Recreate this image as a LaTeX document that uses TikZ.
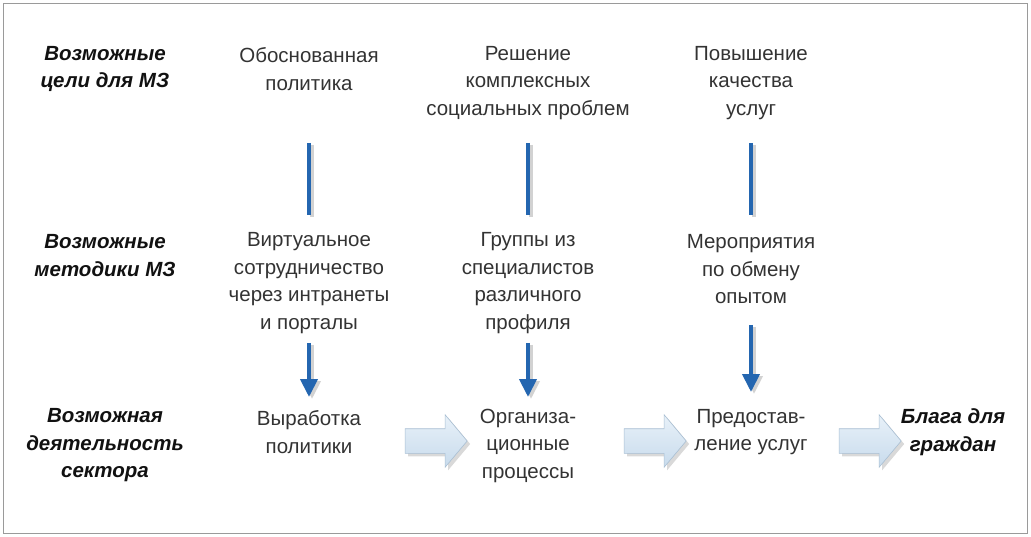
\documentclass[tikz,border=0pt]{standalone}
\usepackage{fontspec}
\setmainfont{Liberation Sans}
\usetikzlibrary{arrows.meta,shapes.arrows,shadows}
\definecolor{txt}{HTML}{333333}
\definecolor{lbl}{HTML}{111111}
\definecolor{vblue}{HTML}{2466B0}
\definecolor{frame}{HTML}{9A9A9A}
\begin{document}
\begin{tikzpicture}[x=1pt,y=-1pt,
  every node/.style={inner sep=0pt, outer sep=0pt},
  body/.style={font=\fontsize{20.5}{27.5}\selectfont, text=txt, align=center},
  label/.style={font=\fontsize{20.5}{27.5}\selectfont\bfseries\itshape, text=lbl, align=center},
  vline/.style={draw=vblue, line width=4pt,
     preaction={draw=gray!35, line width=4pt, transform canvas={xshift=3pt,yshift=-2pt}}},
  varrow/.style={vline, -{Triangle[width=17pt,length=18pt]}},
  barrow/.style={single arrow, single arrow head extend=14pt, single arrow tip angle=100,
     minimum height=62pt, inner ysep=12pt, inner xsep=0pt,
     top color=blockT, bottom color=blockB, draw=blockE, line width=0.6pt,
     drop shadow={shadow xshift=3pt, shadow yshift=-3pt, opacity=0.3, fill=gray}}
]
\definecolor{blockT}{HTML}{E8F1F9}
\definecolor{blockB}{HTML}{C8DBEC}
\definecolor{blockE}{HTML}{A9BFD3}
\useasboundingbox (0,0) rectangle (1031,537);
\draw[frame, line width=1pt] (3.5,3.5) rectangle (1027.5,533.5);

% row labels
\node[label] (l1) at (105,69) {Возможные\\цели для МЗ};
\node[label] (l2) at (105,255.5) {Возможные\\методики МЗ};
\node[label] (l3) at (105,445.5) {Возможная\\деятельность\\сектора};

% goals
\node[body] (g1) at (309,69) {Обоснованная\\политика};
\node[body] (g2) at (528,83) {Решение\\комплексных\\социальных проблем};
\node[body] (g3) at (751,83) {Повышение\\качества\\услуг};

% methods
\node[body] (m1) at (309,283) {Виртуальное\\сотрудничество\\через интранеты\\и порталы};
\node[body] (m2) at (528,283) {Группы из\\специалистов\\различного\\профиля};
\node[body] (m3) at (751,269.5) {Мероприятия\\по обмену\\опытом};

% activities
\node[body] (d1) at (309,432) {Выработка\\политики};
\node[body] (d2) at (528,445.5) {Организа-\\ционные\\процессы};
\node[body] (d3) at (751,432) {Предостав-\\ление услуг};
\node[label] (d4) at (953,432) {Блага для\\граждан};

% vertical lines goal -> method
\coordinate (s1) at (309,143); \coordinate (e1) at (309,215);
\coordinate (s2) at (528,143); \coordinate (e2) at (528,215);
\coordinate (s3) at (751,143); \coordinate (e3) at (751,215);
\draw[vline] (s1) -- (e1);
\draw[vline] (s2) -- (e2);
\draw[vline] (s3) -- (e3);

% arrows method -> activity
\coordinate (t1) at (309,343); \coordinate (u1) at (309,397);
\coordinate (t2) at (528,343); \coordinate (u2) at (528,397);
\coordinate (t3) at (751,325); \coordinate (u3) at (751,392);
\draw[varrow] (t1) -- (u1);
\draw[varrow] (t2) -- (u2);
\draw[varrow] (t3) -- (u3);

% block arrows
\node[barrow] (a1) at (431,441) {};
\node[barrow] (a2) at (650,441) {};
\node[barrow] (a3) at (865,441) {};
\end{tikzpicture}
\end{document}
